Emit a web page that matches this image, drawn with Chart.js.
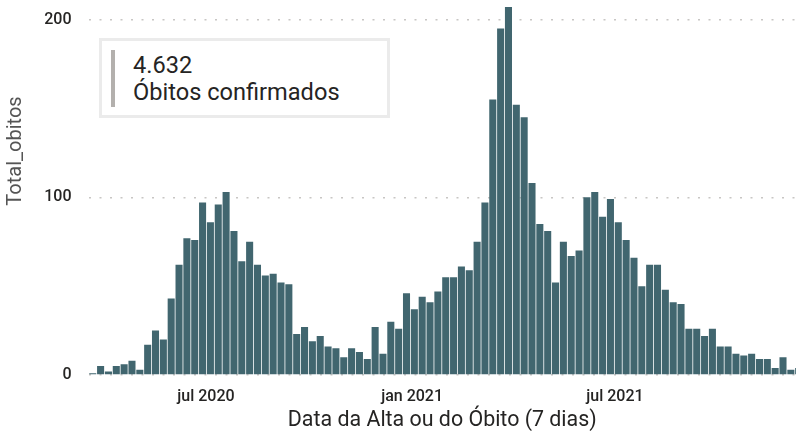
<!DOCTYPE html>
<html lang="pt-BR">
<head>
<meta charset="utf-8">
<title>Óbitos confirmados</title>
<script src="https://cdn.jsdelivr.net/npm/chart.js@4.4.1/dist/chart.umd.min.js"></script>
<style>
  html, body { margin: 0; padding: 0; background: #fff; overflow: hidden; }
  #wrap { position: relative; width: 796px; height: 433px; }
  .kpi-card {
    position: absolute; left: 99px; top: 38px; width: 291px; height: 80px;
    box-sizing: border-box; border: 3px solid #ebebeb; background: #fff;
    font-family: Roboto, sans-serif; color: #252423;
  }
  .kpi-card .accent { position: absolute; left: 9px; top: 9px; width: 4px; height: 57px; background: #b3b0ad; }
  .kpi-card .text { position: absolute; left: 31px; top: 11px; font-size: 23.6px; line-height: 27px; white-space: nowrap; }
</style>
</head>
<body>
<div id="wrap">
  <canvas id="deathsChart"></canvas>
  <div class="kpi-card">
    <div class="accent"></div>
    <div class="text"><div id="kpi-value"></div><div id="kpi-label"></div></div>
  </div>
</div>
<script>
// --- data ---
const WEEK_START = '2020-03-22'; // first 7-day bucket

const deaths = [
  1, 5, 2, 5, 6, 8, 3, 17, 25, 20,
  43, 62, 77, 76, 97, 86, 96, 103, 81, 64,
  75, 62, 56, 57, 52, 51, 23, 27, 19, 22,
  16, 15, 10, 15, 13, 9, 27, 12, 30, 26,
  46, 37, 44, 41, 47, 55, 55, 61, 59, 75,
  97, 155, 195, 207, 152, 145, 108, 85, 81, 52,
  75, 67, 70, 100, 103, 89, 99, 86, 76, 66,
  50, 62, 62, 48, 41, 40, 26, 26, 22, 26,
  16, 16, 12, 11, 12, 9, 9, 4, 10, 3,
  4
];

const tickDates = ['2020-07-01', '2021-01-01', '2021-07-01'];
const tickLabels = ['jul 2020', 'jan 2021', 'jul 2021'];
const yTicks = [0, 100, 200];

const KPI_VALUE = '4.632';
const KPI_LABEL = 'Óbitos confirmados';
const Y_TITLE = 'Total_obitos';
const X_TITLE = 'Data da Alta ou do Óbito (7 dias)';

// --- config ---
const COLORS = {
    bar: '#41666f',
    grid: '#c8c6c4',
    text: '#252423',
    axisTitle: '#555555'
};
const FONT = 'Roboto, "Open Sans", sans-serif';
const DAY_MS = 86400000;

function dayOffset(date) {
    return (Date.parse(date) - Date.parse(WEEK_START)) / DAY_MS;
}

// one bar per week, placed on a day axis
const points = deaths.map((v, i) => ({ x: i * 7, y: v }));

document.getElementById('kpi-value').textContent = KPI_VALUE;
document.getElementById('kpi-label').textContent = KPI_LABEL;

// y title sits above the axis middle in the original, so draw it by hand
const yTitlePlugin = {
    id: 'yTitle',
    afterDraw(chart) {
        const ctx = chart.ctx;
        ctx.save();
        ctx.translate(16, 151);
        ctx.rotate(-Math.PI / 2);
        ctx.font = '20px ' + FONT;
        ctx.fillStyle = COLORS.axisTitle;
        ctx.textAlign = 'center';
        ctx.textBaseline = 'middle';
        ctx.fillText(Y_TITLE, 0, 0);
        ctx.restore();
    }
};

new Chart(document.getElementById('deathsChart'), {
    type: 'bar',
    data: {
        datasets: [{
            label: Y_TITLE,
            data: points,
            backgroundColor: COLORS.bar,
            borderWidth: 0,
            categoryPercentage: 1,
            barPercentage: 0.9
        }]
    },
    options: {
        responsive: true,
        maintainAspectRatio: false,
        animation: false,
        layout: { padding: 0 },
        plugins: {
            legend: { display: false },
            tooltip: { enabled: false }
        },
        scales: {
            x: {
                type: 'linear',
                offset: false,
                min: -3.8,   // left edge of the first week
                max: 627.6,  // last week is cut by the frame
                grid: { display: false, drawTicks: false },
                border: { display: false },
                afterBuildTicks: s => { s.ticks = tickDates.map(d => ({ value: dayOffset(d) })); },
                afterFit: s => { s.height = 58; s.paddingLeft = 0; s.paddingRight = 0; },
                ticks: {
                    autoSkip: false,
                    maxRotation: 0,
                    padding: 12,
                    color: COLORS.text,
                    font: { family: FONT, size: 16, weight: '500' },
                    callback: (value, index) => tickLabels[index]
                },
                title: {
                    display: true,
                    text: X_TITLE,
                    color: COLORS.text,
                    font: { family: FONT, size: 21.4 },
                    padding: { top: 0, bottom: 0 }
                }
            },
            y: {
                min: 0,
                max: 211,
                afterBuildTicks: s => { s.ticks = yTicks.map(v => ({ value: v })); },
                afterFit: s => { s.width = 88.5; s.paddingTop = 0; s.paddingBottom = 0; },
                grid: { color: COLORS.grid, lineWidth: 1.5, drawTicks: false },
                border: { display: false, dash: [2, 8.5] },
                ticks: {
                    padding: 17,
                    color: COLORS.text,
                    font: { family: FONT, size: 16, weight: '500' }
                },
                title: { display: false }
            }
        }
    },
    plugins: [yTitlePlugin]
});
</script>
</body>
</html>
